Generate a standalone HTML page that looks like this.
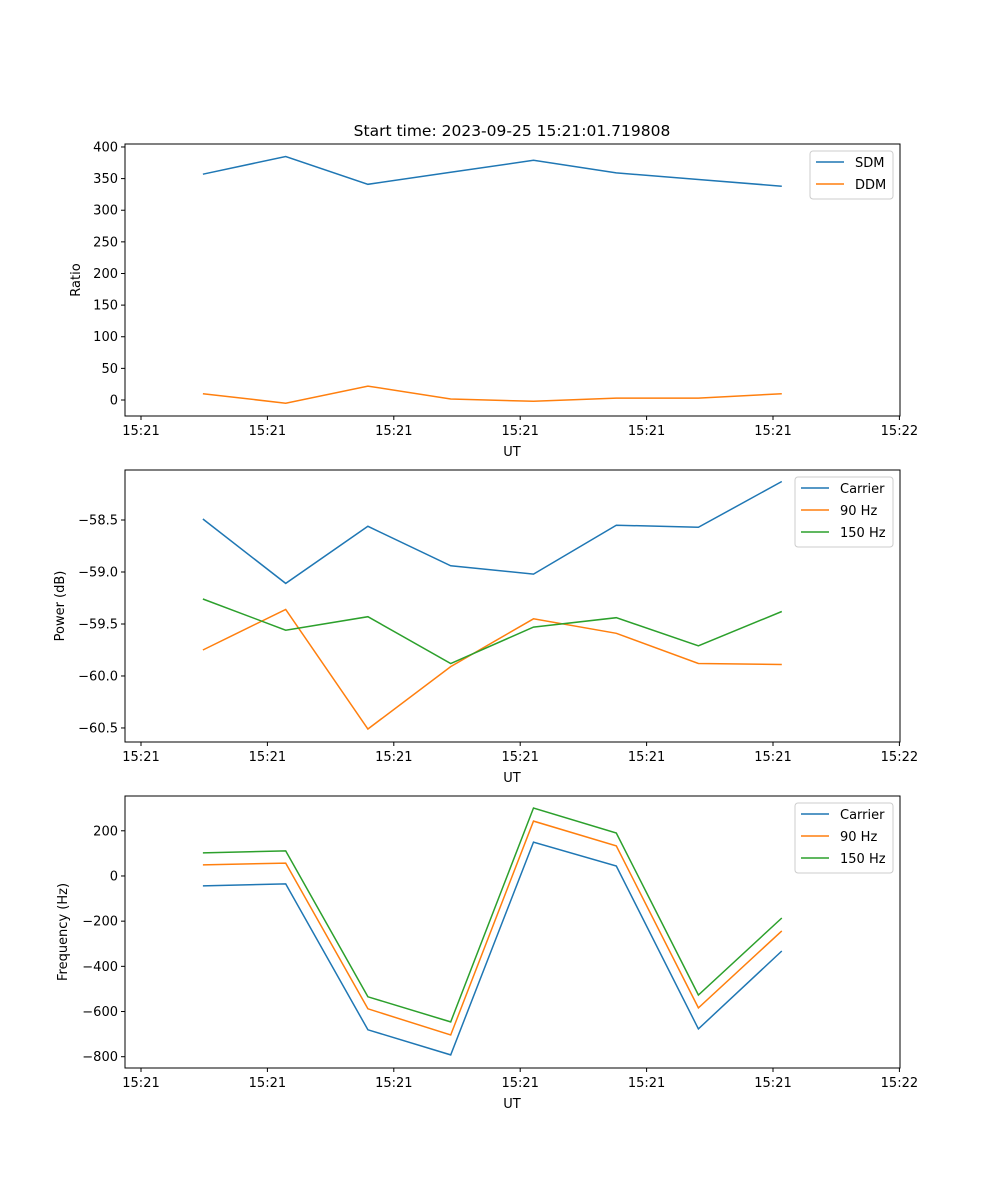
<!DOCTYPE html>
<html><head><meta charset="utf-8"><style>
body{margin:0;background:#fff}
svg{display:block;font-family:"DejaVu Sans","Liberation Sans",sans-serif}
</style></head><body>
<svg id="fig" width="1000" height="1200"></svg>
<script>
const times=[0.49,1.145,1.795,2.45,3.105,3.76,4.41,5.07];
const xTickLabels=["15:21","15:21","15:21","15:21","15:21","15:21","15:22"];
const sdm=[357,385,341,360,379,359,348.5,338];
const ddm=[10,-5,22,1.5,-2,3,3,10];
const pCarrier=[-58.49,-59.11,-58.56,-58.94,-59.02,-58.55,-58.57,-58.13];
const p90=[-59.75,-59.36,-60.51,-59.91,-59.45,-59.59,-59.88,-59.89];
const p150=[-59.26,-59.56,-59.43,-59.88,-59.53,-59.44,-59.71,-59.38];
const fCarrier=[-44,-35,-681,-792,150,44,-677,-332];
const f90=[49,57,-588,-704,243,133,-584,-243];
const f150=[102,111,-535,-646,301,190,-527,-186];
const ticks1=[0,50,100,150,200,250,300,350,400];
const ticks2=[-60.5,-60.0,-59.5,-59.0,-58.5];
const ticks3=[-800,-600,-400,-200,0,200];
const C=["#1f77b4","#ff7f0e","#2ca02c"];
const NS="http://www.w3.org/2000/svg";
const svg=document.getElementById("fig");
function el(t,a,p){const e=document.createElementNS(NS,t);for(const k in a)e.setAttribute(k,a[k]);(p||svg).appendChild(e);return e;}
const X0=125,X1=900;
function xs(t){return 141+t*126.4;}
function panel(name,top,bot,ymin,ymax,yt,yfmt,ylabel,series,names,leg){
  const g=el("g",{});
  
  
  const ys=v=>bot-(v-ymin)/(ymax-ymin)*(bot-top);
  series.forEach((s,i)=>{
    const pts=s.map((v,j)=>xs(times[j]).toFixed(1)+","+ys(v).toFixed(1)).join(" ");
    const l=el("polyline",{points:pts,fill:"none",stroke:C[i],"stroke-width":1.5},g);
    
    
  });
  el("rect",{x:X0,y:top,width:X1-X0,height:bot-top,fill:"none",stroke:"#000","stroke-width":1},g);
  xTickLabels.forEach((lb,k)=>{
    const x=xs(k);
    el("line",{x1:x,x2:x,y1:bot,y2:bot+4,stroke:"#000"},g);
    const t=el("text",{x:x,y:bot+19,"text-anchor":"middle","font-size":13},g);t.textContent=lb;
    
    
  });
  const xl=el("text",{x:512,y:bot+40,"text-anchor":"middle","font-size":13},g);xl.textContent="UT";
  
  
  yt.forEach(v=>{
    const y=ys(v);
    el("line",{x1:X0-4,x2:X0,y1:y,y2:y,stroke:"#000"},g);
    const t=el("text",{x:X0-7,y:y+4.5,"text-anchor":"end","font-size":13},g);t.textContent=yfmt(v);
    
    
  });
  const yl=el("text",{transform:`translate(${leg.yx},${(top+bot)/2}) rotate(-90)`,"text-anchor":"middle","font-size":13},g);yl.textContent=ylabel;
  
  
  const lg=el("g",{},g);
  
  
  el("rect",{x:leg.x,y:top+7,width:893-leg.x,height:names.length*22+4,rx:3,fill:"#fff",stroke:"#ccc"},lg);
  names.forEach((n,i)=>{
    const y=top+18+i*22;
    el("line",{x1:leg.x+6,x2:leg.x+34,y1:y,y2:y,stroke:C[i],"stroke-width":1.5},lg);
    const t=el("text",{x:leg.x+45,y:y+5,"font-size":13},lg);t.textContent=n;
    
    
  });
}
const tt=el("text",{x:512,y:136,"text-anchor":"middle","font-size":15.5});
tt.textContent="Start time: 2023-09-25 15:21:01.719808";


panel("ratio-panel",144,416,-25.3,404.7,ticks1,v=>String(v),"Ratio",[sdm,ddm],["SDM","DDM"],{x:810,yx:80});
panel("power-panel",470,742,-60.635,-58.019,ticks2,v=>(v<0?"\u2212":"")+Math.abs(v).toFixed(1),"Power (dB)",[pCarrier,p90,p150],["Carrier","90 Hz","150 Hz"],{x:795,yx:64});
panel("frequency-panel",796,1068,-850,354,ticks3,v=>(v<0?"\u2212":"")+Math.abs(v),"Frequency (Hz)",[fCarrier,f90,f150],["Carrier","90 Hz","150 Hz"],{x:795,yx:67});
</script>
</body></html>
